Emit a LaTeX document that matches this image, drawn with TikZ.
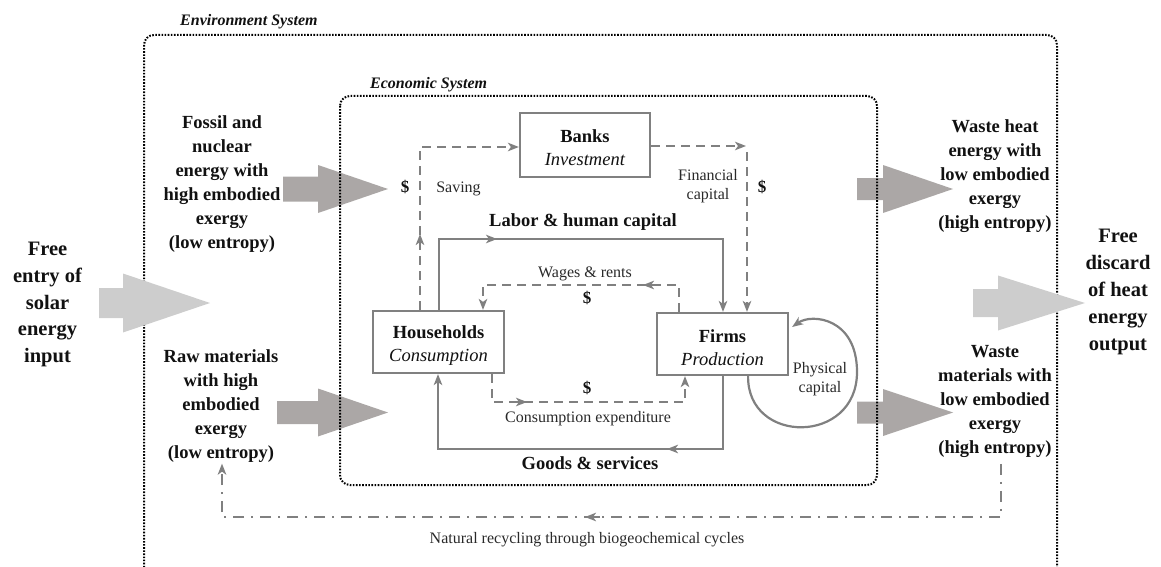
\documentclass[tikz,border=0pt]{standalone}
\usepackage{fontspec}
\setmainfont{Liberation Serif}
\usetikzlibrary{arrows.meta,calc}
\definecolor{lg}{HTML}{808080}
\definecolor{darr}{HTML}{ABA7A6}
\definecolor{larr}{HTML}{CDCDCD}
\definecolor{txt}{HTML}{111111}
\newcommand{\bigArrowShape}[7]{\fill[#1] (#2,#5-#6) -- (#3,#5-#6) -- (#3,#5-#7) -- (#4,#5) -- (#3,#5+#7) -- (#3,#5+#6) -- (#2,#5+#6) -- cycle;}
\begin{document}
\begin{tikzpicture}[x=1pt,y=-1pt,
  box/.style={draw=lg, line width=2.2pt, fill=white, inner sep=0pt},
  btxt/.style={font=\fontsize{18.5}{23}\selectfont, align=center, inner sep=0pt, text=txt},
  big/.style={font=\fontsize{18.5}{24}\selectfont\bfseries, align=center, inner sep=0pt, text=txt},
  huge/.style={font=\fontsize{20.5}{26.8}\selectfont\bfseries, align=center, inner sep=0pt, text=txt},
  small/.style={font=\fontsize{16}{19.5}\selectfont, align=center, inner sep=0pt, text=txt!90},
  dollar/.style={font=\fontsize{17}{20}\selectfont\bfseries, inner sep=0pt, text=txt},
  syslabel/.style={font=\fontsize{16}{19}\selectfont\bfseries\itshape, inner sep=0pt, anchor=base west, text=txt},
  flow/.style={draw=lg, line width=2.2pt},
  dflow/.style={flow, dash pattern=on 9pt off 6pt},
  ddflow/.style={flow, dash pattern=on 11pt off 7pt on 2pt off 7pt},
  tip/.style={-{Stealth[length=11pt,width=8.5pt,inset=3pt]}},
  sysbox/.style={draw=black, line width=2pt, dash pattern=on 1.6pt off 1.5pt, rounded corners=10pt}]
\useasboundingbox (0,0) rectangle (1161,567);
\clip (0,0) rectangle (1161,567);

% environment box
\draw[sysbox] (144,35) rectangle (1057,580);
\node[syslabel] (envl) at (180,26) {Environment System};

% big block arrows
\bigArrowShape{larr}{99}{123}{210}{303}{15}{29.5}
\bigArrowShape{larr}{973}{998}{1085}{303}{14}{27.5}
\bigArrowShape{darr}{283}{318}{388}{189}{12.5}{24}
\bigArrowShape{darr}{277}{318}{388}{412.5}{11.5}{24}
\bigArrowShape{darr}{857}{883}{953}{189}{11}{24}
\bigArrowShape{darr}{857}{883}{953}{412.5}{11}{23.5}

% economic box
\draw[sysbox] (340,96) rectangle (877,485);
\node[syslabel] (ecol) at (370,89) {Economic System};

% side texts
\node[huge] (solar) at (47.5,304.5) {Free\\entry of\\solar\\energy\\input};
\node[huge] (disc) at (1118,292) {Free\\discard\\of heat\\energy\\output};
\node[big] (fossil) at (222,184) {Fossil and\\nuclear\\energy with\\high embodied\\exergy\\(low entropy)};
\node[big] (raw) at (221,406) {Raw materials\\with high\\embodied\\exergy\\(low entropy)};
\node[big] (heat) at (995,176) {Waste heat\\energy with\\low embodied\\exergy\\(high entropy)};
\node[big] (wm) at (995,401.5) {Waste\\materials with\\low embodied\\exergy\\(high entropy)};

% boxes
\node[box, minimum width=130pt, minimum height=64pt] (bk) at (585,145) {};
\node[btxt] (bkt) at ($(bk.center)+(0,2.2)$) {\textbf{Banks}\\\textit{Investment}};
\node[box, minimum width=131pt, minimum height=62pt] (hh) at (438.5,342) {};
\node[btxt] (hht) at ($(hh.center)+(0,3.6)$) {\textbf{Households}\\\textit{Consumption}};
\node[box, minimum width=131pt, minimum height=62pt] (fi) at (722.5,344) {};
\node[btxt] (fit) at ($(fi.center)+(0,3.6)$) {\textbf{Firms}\\\textit{Production}};

% labor
\coordinate (L1) at (439,239); \coordinate (L2) at (723,239);
\draw[flow,tip] (hh.north -| L1) -- (L1) -- (L2) -- (fi.north -| L2);
\draw[flow,tip] (485,239) -- (497,239);
\node[big, anchor=base] (labl) at (583,226) {Labor \& human capital};

% saving
\coordinate (S1) at (420,147);
\draw[dflow,tip] (hh.north -| S1) -- (S1) -- (bk.west |- S1);
\draw[flow,tip] (420,246) -- (420,234);
\node[dollar, anchor=base] (d1) at (405,192) {\$};
\node[small, anchor=base] (sav) at (458.5,192) {Saving};

% financial capital
\coordinate (F1) at (746,146);
\draw[dflow,tip] (bk.east |- F1) -- (F1);
\draw[dflow,tip] ($(F1)+(1,6)$) -- ($(fi.north -| F1)+(1,0)$);
\node[small] (fin) at (708,186) {Financial\\capital};
\node[dollar, anchor=base] (d2) at (762,192) {\$};

% wages
\coordinate (W1) at (679,285); \coordinate (W2) at (483,285);
\draw[dflow,tip] (fi.north -| W1) -- (W1) -- (W2) -- (hh.north -| W2);
\draw[flow,tip] (655,285) -- (643,285);
\node[small, anchor=base] (wag) at (585,277) {Wages \& rents};
\node[dollar, anchor=base] (d3) at (587,303) {\$};

% consumption expenditure
\coordinate (C1) at (492,402); \coordinate (C2) at (685,402);
\draw[dflow,tip] (hh.south -| C1) -- (C1) -- (C2) -- (fi.south -| C2);
\draw[flow,tip] (515,402) -- (527,402);
\node[dollar, anchor=base] (d4) at (587,393) {\$};
\node[small, anchor=base] (cex) at (588,422) {Consumption expenditure};

% goods
\coordinate (G1) at (723,449); \coordinate (G2) at (438,449);
\draw[flow,tip] (fi.south -| G1) -- (G1) -- (G2) -- (hh.south -| G2);
\draw[flow,tip] (680,449) -- (667,449);
\node[big, anchor=base] (gds) at (590,469) {Goods \& services};

% physical capital loop
\draw[flow,tip] ($(fi.south east)+(-41,0)$) .. controls (747,445) and (857,445) .. (857,372) .. controls (857,318) and (812,313) .. ($(fi.east)+(3,-17)$);
\node[small] (phy) at (820,379) {Physical\\capital};

% natural recycling
\coordinate (R1) at (1001,517); \coordinate (R2) at (222,517);
\draw[ddflow,tip,shorten <=6pt,shorten >=1pt] (R1 |- wm.south) -- (R1) -- (R2) -- (R2 |- raw.south);
\draw[flow,tip] (600,517) -- (585,517);
\node[small, anchor=base] (nat) at (587,543) {Natural recycling through biogeochemical cycles};
\end{tikzpicture}
\end{document}
